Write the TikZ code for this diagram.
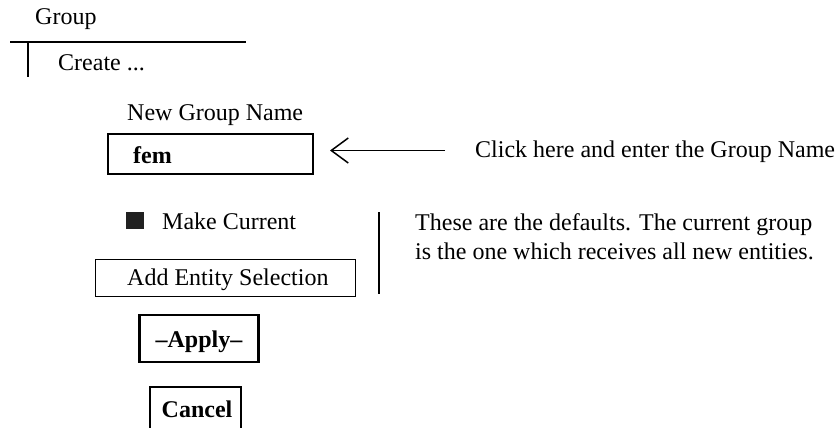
\documentclass[tikz,border=0pt]{standalone}
\usepackage{fontspec}
\setmainfont{Liberation Serif}
\usetikzlibrary{arrows.meta}
\begin{document}
\begin{tikzpicture}[x=1pt,y=-1pt,
  lbl/.style={anchor=base west,inner sep=0pt,font=\fontsize{24}{29}\selectfont},
  blbl/.style={lbl,font=\fontsize{24}{29}\selectfont\bfseries},
  thickbox/.style={draw,line width=2.2pt,inner sep=0pt,anchor=north west},
  thinbox/.style={draw,line width=1pt,inner sep=0pt,anchor=north west},
  rule/.style={line width=2.2pt}]
\useasboundingbox (0,0) rectangle (839,428);

% menu header
\node[lbl] (group) at (35,24.5) {Group};
\coordinate (barL) at (10,42);
\coordinate (barR) at (246,42);
\coordinate (tickTop) at (28,42);
\coordinate (tickBot) at (28,77);
\draw[rule] (barL) -- (barR);
\draw[rule] (tickTop) -- (tickBot);
\node[lbl] (create) at (58,71) {Create ...};

% group name entry
\node[lbl] (namelbl) at (127,121) {New Group Name};
\node[thickbox,minimum width=205pt,minimum height=40pt] (fembox) at (107,133) {};
\node[blbl] (fem) at (133,163) {fem};

% hint with arrow
\node[lbl] (hint) at (475,157.5) {Click here and enter the Group Name};
\coordinate (arrTail) at (445,150.5);
\coordinate (arrTip) at (330,150.5);
\draw[line width=1.5pt,-{Straight Barb[length=17pt,width=25pt,line width=1.5pt]}] (arrTail) -- (arrTip);

% defaults
\node[fill=black!87,minimum width=18pt,minimum height=17pt,inner sep=0pt,anchor=north west] (check) at (125.5,212) {};
\node[lbl] (makecur) at (162,229) {Make Current};
\node[thinbox,minimum width=260pt,minimum height=37pt] (addbox) at (95,258.5) {};
\node[lbl] (addsel) at (127,285) {Add Entity Selection};

% note with separator
\coordinate (sepTop) at (379,212);
\coordinate (sepBot) at (379,294);
\draw[rule] (sepTop) -- (sepBot);
\node[lbl] (note1) at (415,230) {These are the defaults. The current group};
\node[lbl] (note2) at (415,259) {is the one which receives all new entities.};

% buttons
\node[thickbox,minimum width=119pt,minimum height=47pt] (applybox) at (138.3,314) {};
\node[blbl,anchor=base] (apply) at (199,347) {--Apply--};
\node[thickbox,minimum width=91pt,minimum height=60pt] (cancelbox) at (149,386) {};
\node[blbl,anchor=base] (cancel) at (197,417) {Cancel};
\end{tikzpicture}
\end{document}
